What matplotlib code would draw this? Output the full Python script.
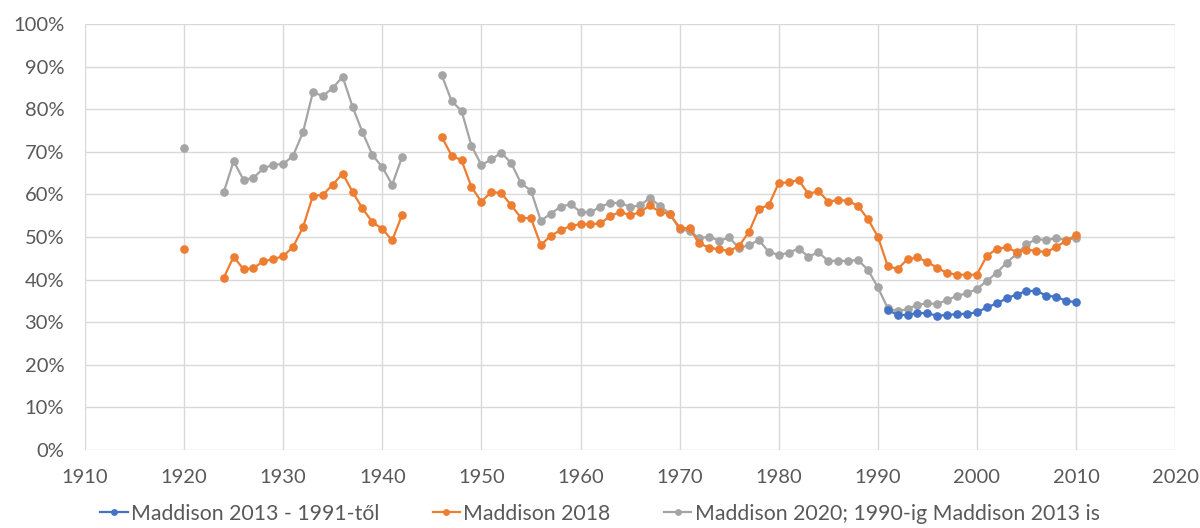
import numpy as np
import matplotlib
matplotlib.use("Agg")
import matplotlib.pyplot as plt
from matplotlib.ticker import FuncFormatter

# === 1. Data (percent) ===
years = list(range(1920, 2011))
nan = np.nan

# Maddison 2020 (gray), 1920..2010, gaps as nan
gray_vals = [70.8, nan, nan, nan, 60.5, 67.8, 63.4, 63.9, 66.1, 67.0,
             67.1, 69.1, 74.6, 84.0, 83.1, 85.0, 87.6, 80.6, 74.6, 69.3,
             66.4, 62.3, 68.8, nan, nan, nan, 88.0, 81.9, 79.6, 71.4,
             66.9, 68.2, 69.8, 67.4, 62.6, 60.9, 53.8, 55.5, 57.1, 57.7,
             55.9, 55.8, 57.1, 58.0, 58.0, 57.1, 57.4, 59.2, 57.3, 55.5,
             51.8, 51.4, 49.7, 50.1, 49.1, 49.9, 47.4, 48.1, 49.3, 46.5,
             45.8, 46.3, 47.3, 45.4, 46.4, 44.4, 44.4, 44.4, 44.6, 42.3,
             38.2, 33.3, 32.6, 33.1, 34.1, 34.4, 34.3, 35.2, 36.2, 36.8,
             37.8, 39.7, 41.6, 44.0, 46.0, 48.3, 49.5, 49.3, 49.7, 49.3,
             49.8]

# Maddison 2018 (orange)
orange_vals = [47.3, nan, nan, nan, 40.4, 45.4, 42.4, 42.7, 44.3, 44.8,
               45.5, 47.7, 52.3, 59.7, 59.9, 62.3, 64.9, 60.6, 56.7, 53.5,
               51.9, 49.2, 55.2, nan, nan, nan, 73.5, 69.1, 68.0, 61.7,
               58.3, 60.6, 60.3, 57.5, 54.5, 54.4, 48.1, 50.3, 51.6, 52.6,
               53.0, 53.0, 53.2, 54.9, 55.9, 55.1, 55.8, 57.4, 55.9, 55.4,
               52.2, 52.0, 48.5, 47.5, 47.1, 46.7, 47.9, 51.2, 56.6, 57.5,
               62.7, 62.8, 63.4, 60.1, 60.8, 58.3, 58.7, 58.5, 57.3, 54.2,
               50.1, 43.2, 42.5, 44.8, 45.2, 44.1, 42.8, 41.5, 41.2, 41.1,
               41.2, 45.6, 47.2, 47.6, 46.5, 47.0, 46.8, 46.4, 47.7, 49.1,
               50.5]

# Maddison 2013 - from 1991 (blue)
blue_years = list(range(1991, 2011))
blue_vals = [32.9, 31.7, 31.7, 32.2, 32.1, 31.5, 31.7, 31.9, 32.0, 32.3,
             33.5, 34.4, 35.6, 36.5, 37.3, 37.4, 36.2, 36.0, 35.0, 34.7]

labels = ["Maddison 2013 - 1991-től", "Maddison 2018",
          "Maddison 2020; 1990-ig Maddison 2013 is"]
colors = ["#4472C4", "#ED7D31", "#A5A5A5"]

# === 2. Plot ===
plt.rcParams['font.family'] = ['Lato', 'DejaVu Sans']

fig = plt.figure(figsize=(12, 5.28), dpi=100)
ax = fig.add_axes([0.0708, 0.1477, 0.9085, 0.8068])

style = dict(marker='o', markersize=5.2, linewidth=1.6)
ax.plot(years, np.array(gray_vals) / 100, color=colors[2], label=labels[2], **style)
ax.plot(years, np.array(orange_vals) / 100, color=colors[1], label=labels[1], **style)
ax.plot(blue_years, np.array(blue_vals) / 100, color=colors[0], label=labels[0], **style)

ax.set_xlim(1910, 2020)
ax.set_ylim(0, 1.0)
ax.set_xticks(range(1910, 2021, 10))
ax.set_yticks(np.arange(0, 1.01, 0.1))
ax.yaxis.set_major_formatter(FuncFormatter(lambda v, p: f"{v * 100:.0f}%"))

ax.grid(True, color="#D9D9D9", linewidth=1.0)
ax.set_axisbelow(True)
for s in ax.spines.values():
    s.set_visible(False)
ax.tick_params(length=0, labelsize=14.5, labelcolor="#595959")
ax.tick_params(axis='y', pad=15)
ax.tick_params(axis='x', pad=14)

handles, labs = ax.get_legend_handles_labels()
order = [2, 1, 0]
fig.legend([handles[i] for i in order], [labs[i] for i in order],
           loc='lower center', ncol=3, frameon=False, fontsize=15.3,
           labelcolor="#595959", handlelength=1.3, handletextpad=0.15,
           markerscale=0.75, columnspacing=2.5,
           bbox_to_anchor=(0.5, -0.028))

fig.savefig("out.png", dpi=100)
